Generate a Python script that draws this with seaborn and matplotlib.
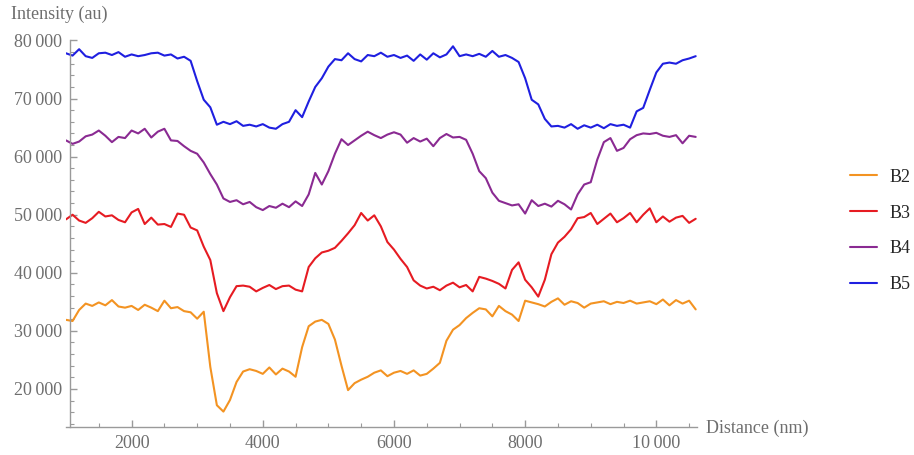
import numpy as np
import pandas as pd
import matplotlib
matplotlib.use("Agg")
import matplotlib.pyplot as plt
from matplotlib.ticker import FixedLocator, FuncFormatter
import seaborn as sns

# distance axis, one sample every 100 nm
distance = list(range(1000, 10700, 100))

b2 = [31900, 31700, 33600, 34700, 34300, 34900, 34400, 35300, 34200, 34000,
      34300, 33600, 34500, 34000, 33400, 35200, 33900, 34100, 33400, 33200,
      32100, 33300, 23800, 17200, 16100, 18100, 21200, 23000, 23400, 23100,
      22600, 23700, 22500, 23500, 23000, 22100, 27200, 30800, 31600, 31900,
      31200, 28500, 24000, 19800, 21000, 21600, 22100, 22800, 23200, 22200,
      22800, 23100, 22600, 23200, 22300, 22600, 23500, 24500, 28300, 30200,
      31000, 32200, 33100, 33900, 33700, 32500, 34300, 33400, 32800, 31700,
      35200, 34900, 34600, 34200, 35000, 35600, 34500, 35100, 34800, 34000,
      34700, 34900, 35100, 34600, 35000, 34800, 35200, 34700, 34900, 35100,
      34600, 35400, 34400, 35300, 34700, 35200, 33700]

b3 = [49200, 50000, 49000, 48600, 49400, 50500, 49700, 49900, 49100, 48700,
      50400, 51000, 48400, 49500, 48300, 48400, 47900, 50200, 50000, 47800,
      47300, 44500, 42200, 36500, 33400, 35800, 37700, 37800, 37600, 36800,
      37400, 37900, 37200, 37700, 37800, 37100, 36800, 41000, 42500, 43500,
      43800, 44300, 45500, 46800, 48200, 50300, 49000, 49900, 48000, 45300,
      44000, 42400, 41000, 38700, 37800, 37300, 37600, 37000, 37800, 38300,
      37500, 37900, 36800, 39300, 39000, 38600, 38100, 37300, 40500, 41800,
      38800, 37500, 35900, 38800, 43200, 45200, 46200, 47500, 49400, 49600,
      50300, 48400, 49300, 50200, 48700, 49400, 50300, 48700, 50000, 51100,
      48700, 49700, 48800, 49500, 49800, 48600, 49300]

b4 = [62800, 62200, 62600, 63500, 63800, 64500, 63600, 62500, 63400, 63200,
      64500, 64000, 64800, 63300, 64300, 64800, 62800, 62700, 61800, 61000,
      60500, 59000, 57000, 55200, 52800, 52200, 52500, 51800, 52200, 51300,
      50800, 51500, 51200, 51900, 51300, 52300, 51500, 53500, 57200, 55200,
      57500, 60500, 63000, 62000, 62800, 63600, 64300, 63700, 63200, 63800,
      64200, 63800, 62400, 63200, 62600, 63100, 61800, 63200, 63900, 63300,
      63400, 62900, 60500, 57500, 56300, 53800, 52400, 52000, 51600, 51800,
      50200, 52500, 51500, 51900, 51400, 52400, 51800, 50900, 53500, 55200,
      55600, 59500, 62500, 63200, 61000, 61500, 63000, 63700, 64000, 63900,
      64100, 63600, 63400, 63700, 62300, 63600, 63400]

b5 = [77800, 77400, 78500, 77300, 77000, 77800, 77900, 77500, 78000, 77200,
      77600, 77300, 77500, 77800, 77900, 77400, 77600, 76900, 77200, 76500,
      73000, 69800, 68500, 65500, 66000, 65600, 66100, 65300, 65500, 65200,
      65600, 65000, 64800, 65600, 66000, 68000, 66800, 69500, 72000, 73500,
      75500, 76800, 76600, 77800, 76800, 76400, 77500, 77300, 77900, 77200,
      77500, 77000, 77400, 76500, 77600, 76700, 77800, 77100, 77600, 79000,
      77300, 77600, 77300, 77700, 77200, 78200, 77200, 77500, 77000, 76300,
      73500, 69800, 69000, 66500, 65200, 65300, 65000, 65600, 64800, 65400,
      65000, 65500, 64900, 65600, 65300, 65500, 65000, 67800, 68400, 71500,
      74500, 76000, 76200, 76000, 76600, 76900, 77300]

series_names = ["B2", "B3", "B4", "B5"]
palette = {"B2": "#f39322", "B3": "#e61b22", "B4": "#8a2a92", "B5": "#1f1fe0"}

y_major = [20000, 30000, 40000, 50000, 60000, 70000, 80000]
x_major = [2000, 4000, 6000, 8000, 10000]

# long-form table for seaborn
df = pd.concat([
    pd.DataFrame({"distance": distance, "intensity": vals, "band": name})
    for name, vals in zip(series_names, [b2, b3, b4, b5])
])

sns.set_theme(style="white")
plt.rcParams["font.family"] = ["Liberation Serif", "DejaVu Serif"]

fig = plt.figure(figsize=(9.14, 4.55), dpi=100)
ax = fig.add_axes([66 / 914, 28 / 455, 631 / 914, 386.5 / 455])

sns.lineplot(data=df, x="distance", y="intensity", hue="band",
             hue_order=series_names, palette=palette, linewidth=1.5,
             ax=ax, legend=True)

ax.set_xlim(1000, 10620)
ax.set_ylim(13450, 80000)

# Mathematica-like axes: only left & bottom, crossing near the corner
axis_grey = "#9a9a9a"
for side in ["top", "right"]:
    ax.spines[side].set_visible(False)
ax.spines["left"].set_position(("data", 1061))
for side in ["left", "bottom"]:
    ax.spines[side].set_color(axis_grey)
    ax.spines[side].set_linewidth(1.0)

ax.xaxis.set_major_locator(FixedLocator(x_major))
ax.xaxis.set_minor_locator(FixedLocator(list(range(1500, 10600, 500))))
ax.yaxis.set_major_locator(FixedLocator(y_major))
ax.yaxis.set_minor_locator(FixedLocator(list(range(14000, 80001, 2000))))
ax.yaxis.set_major_formatter(FuncFormatter(lambda v, p: f"{int(v) // 1000}\u2009000"))
ax.xaxis.set_major_formatter(FuncFormatter(lambda v, p: f"{int(v)}" if v < 10000 else f"{int(v) // 1000}\u2009000"))

ax.tick_params(which="both", direction="in", color=axis_grey, labelcolor="#6e6e6e",
               labelsize=13, bottom=True, left=True)
ax.tick_params(which="major", length=5, width=1.0, pad=6)
ax.tick_params(which="minor", length=3, width=0.8)

ax.set_xlabel("")
ax.set_ylabel("")

# axis labels at the axis ends
fig.text(11 / 914, 1 - 14 / 455, "Intensity (au)", fontsize=13, color="#6e6e6e",
         ha="left", va="center")
fig.text(706 / 914, 1 - 428 / 455, "Distance (nm)", fontsize=13, color="#6e6e6e",
         ha="left", va="center")

# legend on the right
handles, labels = ax.get_legend_handles_labels()
ax.legend(handles, labels, loc="center left", bbox_to_anchor=(850 / 914, 1 - 231 / 455),
          bbox_transform=fig.transFigure, frameon=False, fontsize=13,
          handlelength=1.5, handletextpad=0.7, labelspacing=1.05, borderpad=0,
          borderaxespad=0)

fig.savefig("out.png", dpi=100)
